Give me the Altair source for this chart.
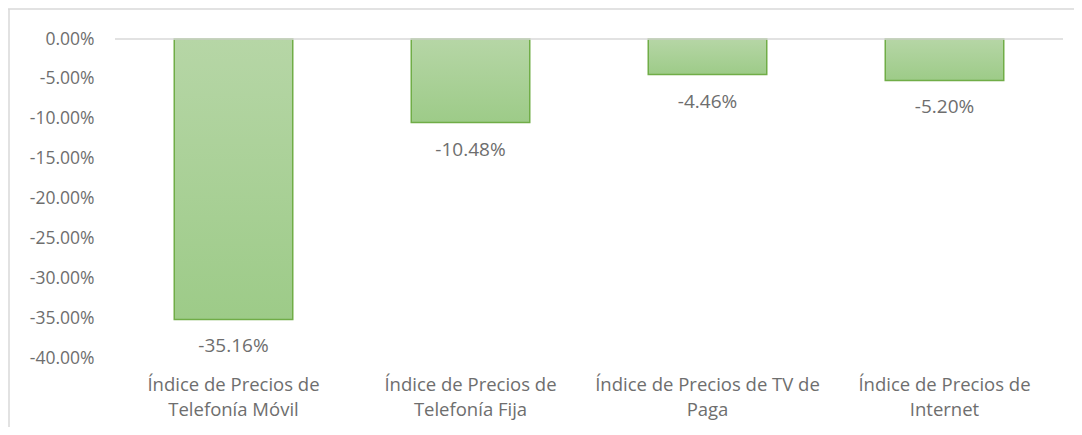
import altair as alt
import pandas as pd

line1 = ["Índice de Precios de", "Índice de Precios de", "Índice de Precios de TV de", "Índice de Precios de"]
line2 = ["Telefonía Móvil", "Telefonía Fija", "Paga", "Internet"]
values = [-0.3516, -0.1048, -0.0446, -0.0520]
value_labels = ["-35.16%", "-10.48%", "-4.46%", "-5.20%"]
y_ticks = [0, -0.05, -0.10, -0.15, -0.20, -0.25, -0.30, -0.35, -0.40]

cats = [a + " " + b for a, b in zip(line1, line2)]
df = pd.DataFrame({"cat": cats, "val": values, "lab": value_labels})

label_expr = ""
for c, a, b in zip(cats, line1, line2):
    label_expr += f"datum.value == '{c}' ? ['{a}', '{b}'] : "
label_expr += "datum.value"

FONT = "Open Sans"
GRAY = "#6e6e6e"
W, H = 948, 319

x = alt.X("cat:N", sort=cats, title=None,
          scale=alt.Scale(paddingInner=0.5, paddingOuter=0.25),
          axis=alt.Axis(orient="bottom", domain=False, ticks=False, labelAngle=0,
                        labelPadding=17, labelLineHeight=25, labelFontSize=18.5,
                        labelFont=FONT, labelColor=GRAY, labelExpr=label_expr,
                        labelLimit=300, labelOverlap=False))

y_scale = alt.Scale(domain=[-0.40, 0], nice=False, zero=True)
y_axis = alt.Axis(values=y_ticks, domain=False, ticks=False, grid=False,
                  labelPadding=21, labelFontSize=17.5, labelFont=FONT,
                  labelColor=GRAY, labelOverlap=False,
                  labelExpr="replace(format(datum.value, '.2%'), '\u2212', '-')")

base = alt.Chart(df)

bars = base.mark_bar(
    color=alt.Gradient(
        gradient="linear", x1=0, y1=0, x2=0, y2=1,
        stops=[alt.GradientStop(color="#b6d6a6", offset=0),
               alt.GradientStop(color="#9dcb88", offset=1)]),
    stroke="#70ad47", strokeWidth=1.5
).encode(x=x, y=alt.Y("val:Q", title=None, scale=y_scale, axis=y_axis))

texts = base.mark_text(baseline="top", dy=18, fontSize=19, font=FONT, color=GRAY).encode(
    x=alt.X("cat:N", sort=cats), y=alt.Y("val:Q", scale=y_scale, axis=y_axis, title=None),
    text="lab:N")

zero_line = alt.Chart(pd.DataFrame({"z": [0]})).mark_rule(color="#d9d9d9", strokeWidth=1.5).encode(
    y=alt.Y("z:Q", scale=y_scale, axis=y_axis, title=None))

top_border = alt.Chart(pd.DataFrame({"z": [0]})).mark_rule(color="#d9d9d9", strokeWidth=1.5).encode(
    x=alt.value(-107), x2=alt.value(W + 11), y=alt.value(-30))
left_border = alt.Chart(pd.DataFrame({"z": [0]})).mark_rule(color="#d9d9d9", strokeWidth=1.5).encode(
    x=alt.value(-106), y=alt.value(-30), y2=alt.value(H + 69))

chart = alt.layer(bars, texts, zero_line, top_border, left_border).properties(
    width=W, height=H,
    autosize=alt.AutoSizeParams(type="none"),
    padding={"left": 107, "top": 31, "right": 11, "bottom": 69},
).configure_view(stroke=None)

chart.save("out.html", embed_options={"renderer": "svg", "actions": False})
